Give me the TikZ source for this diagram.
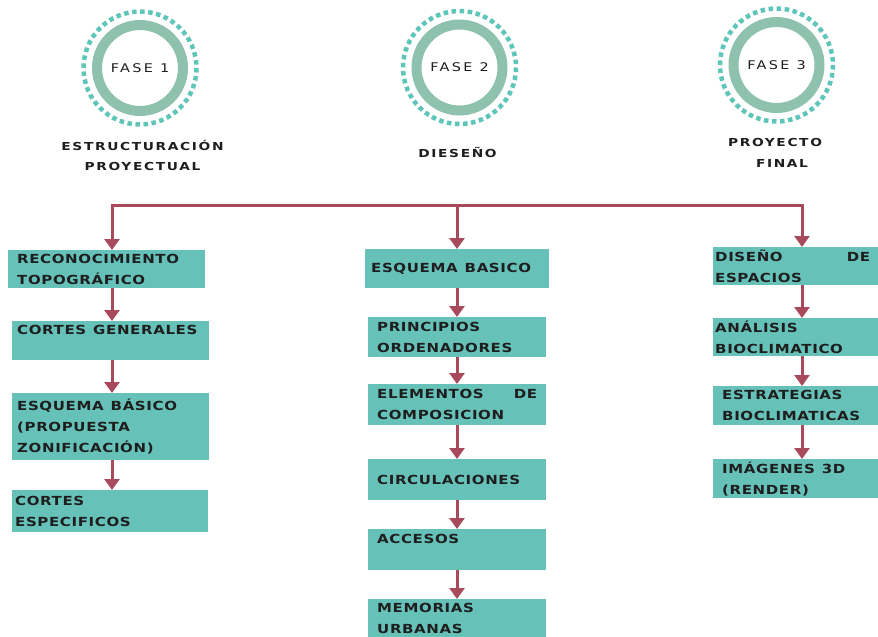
\documentclass[tikz,border=0pt]{standalone}
\usepackage{fontspec}
\usetikzlibrary{arrows.meta}
\newfontfamily\bxfont{DejaVu Sans}[LetterSpace=5,FakeStretch=1.2]
\newfontfamily\phfont{DejaVu Sans}[LetterSpace=20,FakeStretch=1.2]
\newfontfamily\hdfont{DejaVu Sans}[LetterSpace=15,FakeStretch=1.25]
\newcommand\ws{\hspace{7pt}}
\definecolor{boxc}{HTML}{66C2B8}
\definecolor{ringc}{HTML}{8FC2AE}
\definecolor{dotc}{HTML}{5DC5B9}
\definecolor{lnk}{HTML}{A84A5B}
\definecolor{txtc}{HTML}{1E1E1E}
\tikzset{
  bx/.style n args={4}{fill=boxc, draw=none, anchor=north west, minimum width=#1, minimum height=#2, inner xsep=#3, inner ysep=0pt, text width=#4, align=left, text=txtc, font={\bxfont\bfseries\fontsize{12.5}{21}\selectfont}},
  ring/.style={circle, draw=ringc, line width=10pt, minimum size=86pt, inner sep=0pt, text=txtc, font={\phfont\fontsize{12}{13}\selectfont}},
  dots/.style={draw=dotc, line width=4.5pt, dash pattern=on 4.5pt off 3.57pt},
  hd/.style={inner sep=0pt, text=txtc, font={\hdfont\bfseries\fontsize{11}{12}\selectfont}},
  lnkline/.style={draw=lnk, line width=3pt},
  arr/.style={draw=lnk, line width=3pt, -{Triangle[width=15pt,length=11pt]}}
}
\begin{document}
\begin{tikzpicture}[x=1pt,y=-1pt]
\useasboundingbox (0,0) rectangle (878,637);
\clip (0,0) rectangle (878,637);
\fill[white] (0,0) rectangle (878,637);
% phase circles
\node[ring] (c1) at (140,68) {FASE\hspace{7pt}1};
\node[ring] (c2) at (459.5,67.5) {FASE\hspace{7pt}2};
\node[ring] (c3) at (776.5,65) {FASE\hspace{7pt}3};
\draw[dots] (c1.center) circle (56.5);
\draw[dots] (c2.center) circle (56.5);
\draw[dots] (c3.center) circle (56.5);
% headings
\node[hd] (h1a) at (142.5,145) {ESTRUCTURACIÓN};
\node[hd] (h1b) at (142.5,166) {PROYECTUAL};
\node[hd] (h2) at (457.5,152) {DIESEÑO};
\node[hd] (h3a) at (775,142) {PROYECTO};
\node[hd] (h3b) at (782,163) {FINAL};
% junction coordinates
\coordinate (jL) at (112,205);
\coordinate (jM) at (457,205);
\coordinate (jR) at (802,205);
% left column
\node[bx={197pt}{38pt}{9pt}{179pt}] (L1) at (8,250) {RECONOCIMIENTO\\TOPOGRÁFICO};
\node[bx={197pt}{39pt}{5pt}{187pt}] (L2) at (12,321) {CORTES\ws GENERALES\\\mbox{}};
\node[bx={197pt}{67pt}{5pt}{187pt}] (L3) at (12,393) {ESQUEMA\ws BÁSICO\\(PROPUESTA\\ZONIFICACIÓN)};
\node[bx={196pt}{42pt}{3pt}{190pt}] (L4) at (12,490) {CORTES\\ESPECIFICOS};
% middle column
\node[bx={184pt}{39pt}{6pt}{172pt}] (M1) at (365,249) {ESQUEMA\ws BASICO};
\node[bx={178pt}{40pt}{9pt}{160pt}] (M2) at (368,317) {PRINCIPIOS\\ORDENADORES};
\node[bx={178pt}{41pt}{9pt}{160pt}] (M3) at (368,384) {ELEMENTOS\hfill DE\\COMPOSICION};
\node[bx={178pt}{41pt}{9pt}{160pt}] (M4) at (368,459) {CIRCULACIONES};
\node[bx={178pt}{41pt}{9pt}{160pt}] (M5) at (368,529) {ACCESOS\\\mbox{}};
\node[bx={178pt}{38pt}{9pt}{160pt}] (M6) at (368,599) {MEMORIAS\\URBANAS};
% right column
\node[bx={175pt}{38pt}{2pt}{171pt}] (R1) at (713,247) {\makebox[155pt][s]{DISEÑO\hfill DE}\\ESPACIOS};
\node[bx={175pt}{38pt}{2pt}{171pt}] (R2) at (713,318) {ANÁLISIS\\BIOCLIMATICO};
\node[bx={175pt}{39pt}{9pt}{157pt}] (R3) at (713,386) {ESTRATEGIAS\\BIOCLIMATICAS};
\node[bx={175pt}{39pt}{9pt}{157pt}] (R4) at (713,459) {IMÁGENES\ws 3D\\(RENDER)};
% connectors
\draw[lnkline, line cap=rect] (jL) -- (jR);
\draw[arr] (jL) -- (L1.north -| jL);
\draw[arr] (jM) -- (M1.north -| jM);
\draw[arr] (jR) -- (R1.north -| jR);
\draw[arr] (L1.south -| jL) -- (L2.north -| jL);
\draw[arr] (L2.south -| jL) -- (L3.north -| jL);
\draw[arr] (L3.south -| jL) -- (L4.north -| jL);
\draw[arr] (M1.south -| jM) -- (M2.north -| jM);
\draw[arr] (M2.south -| jM) -- (M3.north -| jM);
\draw[arr] (M3.south -| jM) -- (M4.north -| jM);
\draw[arr] (M4.south -| jM) -- (M5.north -| jM);
\draw[arr] (M5.south -| jM) -- (M6.north -| jM);
\draw[arr] (R1.south -| jR) -- (R2.north -| jR);
\draw[arr] (R2.south -| jR) -- (R3.north -| jR);
\draw[arr] (R3.south -| jR) -- (R4.north -| jR);
\end{tikzpicture}
\end{document}
